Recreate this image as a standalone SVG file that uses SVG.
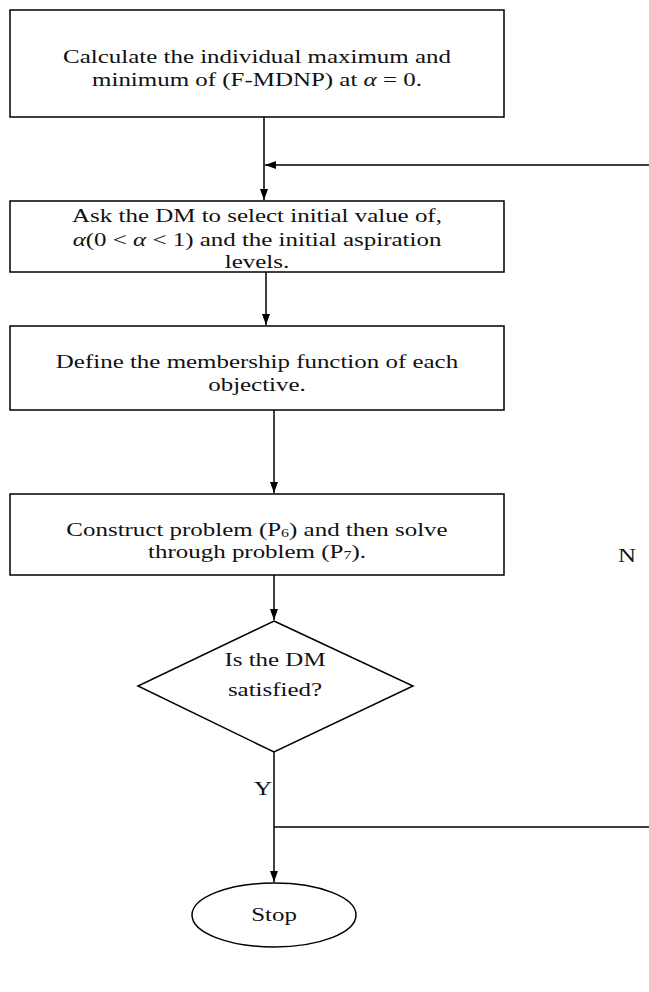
<svg xmlns="http://www.w3.org/2000/svg" width="649" height="992" viewBox="0 0 649 992">
<defs>
<marker id="ah" markerWidth="12" markerHeight="10" refX="11" refY="5" orient="auto" markerUnits="userSpaceOnUse">
<path d="M0,1 L11,5 L0,9 Z" fill="#000"/>
</marker>
<style>
.box{fill:#fff;stroke:#000;stroke-width:1.5}
.t{font-family:"Liberation Serif","Times New Roman",serif;font-size:19.5px;fill:#111;text-anchor:middle}
.c{fill:none;stroke:#000;stroke-width:1.5}
.i{font-style:italic}
.s{font-size:12.5px}
</style>
</defs>
<rect width="649" height="992" fill="#fff"/>
<g id="connectors">
<line class="c" x1="264" y1="117" x2="264" y2="200" marker-end="url(#ah)"/>
<line class="c" x1="649" y1="165" x2="265" y2="165" marker-end="url(#ah)"/>
<line class="c" x1="266" y1="272" x2="266" y2="325" marker-end="url(#ah)"/>
<line class="c" x1="274" y1="410" x2="274" y2="493" marker-end="url(#ah)"/>
<line class="c" x1="274" y1="575" x2="274" y2="620" marker-end="url(#ah)"/>
<line class="c" x1="274" y1="752" x2="274" y2="882" marker-end="url(#ah)"/>
<line class="c" x1="274" y1="827" x2="649" y2="827"/>
<text class="t" transform="translate(627,562) scale(1.28,1)">N</text>
<text class="t" transform="translate(263,795) scale(1.28,1)">Y</text>
</g>
<g id="n1">
<rect class="box" x="10" y="10" width="494" height="107"/>
<text class="t" transform="translate(257,63) scale(1.28,1)">Calculate the individual maximum and</text>
<text class="t" transform="translate(257,86) scale(1.28,1)">minimum of (F-MDNP) at  <tspan class="i">α</tspan> = 0.</text>
</g>
<g id="n2">
<rect class="box" x="10" y="201" width="494" height="71"/>
<text class="t" transform="translate(257,222) scale(1.28,1)">Ask the DM to select initial value of,</text>
<text class="t" transform="translate(257,246) scale(1.28,1)"><tspan class="i">α</tspan>(0 &lt; <tspan class="i">α</tspan> &lt; 1)  and the initial aspiration</text>
<text class="t" transform="translate(257,268) scale(1.28,1)">levels.</text>
</g>
<g id="n3">
<rect class="box" x="10" y="326" width="494" height="84"/>
<text class="t" transform="translate(257,368) scale(1.28,1)">Define the membership function of each</text>
<text class="t" transform="translate(257,391) scale(1.28,1)">objective.</text>
</g>
<g id="n4">
<rect class="box" x="10" y="494" width="494" height="81"/>
<text class="t" transform="translate(257,536) scale(1.28,1)">Construct problem (P<tspan class="s" dy="1">6</tspan><tspan dy="-1">) and then solve</tspan></text>
<text class="t" transform="translate(257,558) scale(1.28,1)">through problem (P<tspan class="s" dy="1">7</tspan><tspan dy="-1">).</tspan></text>
</g>
<g id="n5">
<polygon class="box" points="274,621 413,686 274,752 138,686"/>
<text class="t" transform="translate(275,666) scale(1.28,1)">Is the DM</text>
<text class="t" transform="translate(275,696) scale(1.28,1)">satisfied?</text>
</g>
<g id="n6">
<ellipse class="box" cx="274" cy="915" rx="82" ry="32"/>
<text class="t" transform="translate(274,921) scale(1.28,1)">Stop</text>
</g>
</svg>
